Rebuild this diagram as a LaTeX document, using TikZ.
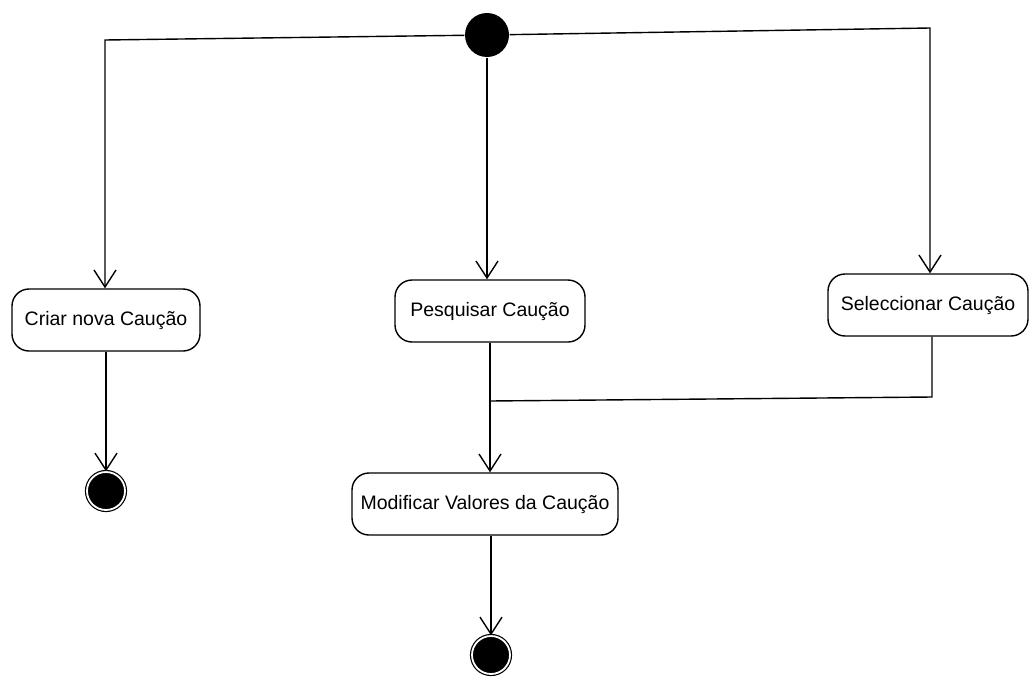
\documentclass[tikz,border=0pt]{standalone}
\usepackage{fontspec}
\setmainfont{Liberation Sans}
\usetikzlibrary{arrows.meta}
\begin{document}
\begin{tikzpicture}[x=1pt,y=-1pt,
  every path/.style={line width=1.4pt},
  act/.style={draw, line width=1.4pt, rounded corners=17pt, minimum height=62pt, inner xsep=6pt, font=\fontsize{19.5}{22}\selectfont, fill=white},
  startnode/.style={circle, fill=black, minimum size=44pt, inner sep=0pt},
  endnode/.style={circle, fill=black, draw=black, line width=1.2pt, double=white, double distance=1.8pt, minimum size=38pt, inner sep=0pt},
  flow/.style={-{Straight Barb[length=17pt,width=22pt,line width=1.4pt]}}]
\useasboundingbox (0,0) rectangle (1030,677);
\node[startnode] (start) at (487,35) {};
\node[act, minimum width=188pt] (criar) at (106,320) {Criar nova Caução};
\node[act, minimum width=190pt] (pesq) at (490,311) {Pesquisar Caução};
\node[act, minimum width=200pt] (sel) at (928,305) {Seleccionar Caução};
\node[act, minimum width=266pt] (mod) at (485,504) {Modificar Valores da Caução};
\node[endnode] (end1) at (106,491) {};
\node[endnode] (end2) at (491,655) {};
\coordinate (cl) at (105,40);
\coordinate (cr) at (930,28);
\coordinate (sc) at (932,397);
\coordinate (j) at (490,401);
\draw[flow] (start) -- (cl) -- (criar.north -| cl);
\draw[flow] (start) -- (cr) -- (sel.north -| cr);
\draw[flow] (start) -- (pesq.north -| start);
\draw[flow] (criar) -- (end1);
\draw[flow] (pesq.south -| j) -- (mod.north -| j);
\draw (sel.south -| sc) -- (sc) -- (j);
\draw[flow] (mod.south -| end2) -- (end2);
\end{tikzpicture}
\end{document}
